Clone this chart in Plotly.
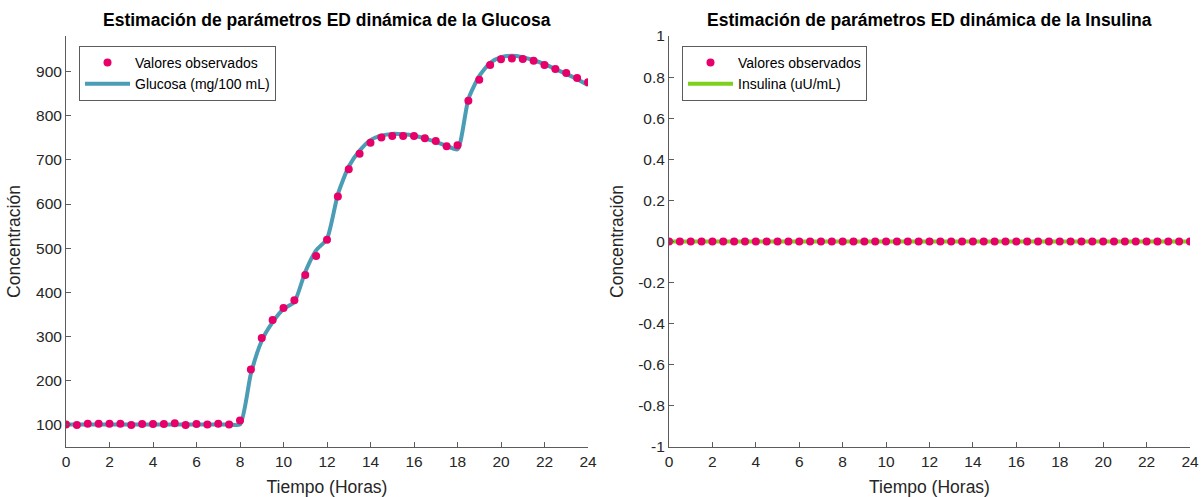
import numpy as np
import plotly.graph_objects as go

# Sampling times (hours)
tiempo = np.arange(0, 24.5, 0.5)

# Observed glucose values (mg/100 mL)
glucosa_obs = [100, 99, 102, 102, 102, 102, 99, 101, 101, 101, 103, 99, 101, 100, 102, 100,
               109, 225, 296, 337, 364, 382, 439, 482, 519,
               617, 679, 714, 739, 751, 754, 754, 754, 749, 743, 731, 733,
               834, 882, 915, 928, 930, 929, 925, 915, 906, 897, 886, 876]

# Fitted glucose model (mg/100 mL)
glucosa_mod = [100, 100, 100, 100, 100, 100, 100, 100, 100, 100, 100, 100, 100, 100, 100, 100,
               100, 215, 290, 332, 362, 378, 446, 495, 521,
               622, 685, 721, 745, 755, 759, 758, 755, 749, 741, 732, 724,
               838, 890, 920, 933, 936, 933, 926, 917, 906, 895, 883, 870]

# Observed and fitted insulin (uU/mL)
insulina_obs = [0] * 49
insulina_mod = [0] * 49

x_ticks = list(range(0, 25, 2))
y1_ticks = [100, 200, 300, 400, 500, 600, 700, 800, 900]
y2_ticks = [-1, -0.8, -0.6, -0.4, -0.2, 0, 0.2, 0.4, 0.6, 0.8, 1]
y2_labels = ["-1", "-0.8", "-0.6", "-0.4", "-0.2", "0", "0.2", "0.4", "0.6", "0.8", "1"]

FONT = "Liberation Sans, Arial, Helvetica, sans-serif"
PINK = "#E8006A"
BLUE = "#4B9DB6"
GREEN = "#7DD01B"
AXC = "#5c5c5c"
TXT = "#262626"

W, H = 1201, 497
T, B = 36, 50
ph = H - T - B

fig = go.Figure()

fig.add_trace(go.Scatter(x=tiempo, y=glucosa_mod, mode="lines", name="Glucosa (mg/100 mL)",
                         line=dict(color=BLUE, width=4, shape="spline", smoothing=0.6),
                         xaxis="x", yaxis="y", legend="legend", legendrank=2))
fig.add_trace(go.Scatter(x=tiempo, y=glucosa_obs, mode="markers", name="Valores observados",
                         marker=dict(color=PINK, size=8),
                         xaxis="x", yaxis="y", legend="legend", legendrank=1))

fig.add_trace(go.Scatter(x=tiempo, y=insulina_mod, mode="lines", name="Insulina (uU/mL)",
                         line=dict(color=GREEN, width=4),
                         xaxis="x2", yaxis="y2", legend="legend2", legendrank=2))
fig.add_trace(go.Scatter(x=tiempo, y=insulina_obs, mode="markers", name="Valores observados",
                         marker=dict(color=PINK, size=8),
                         xaxis="x2", yaxis="y2", legend="legend2", legendrank=1))

dom1 = [66 / W, 588 / W]
dom2 = [669 / W, 1190 / W]

axis_common = dict(showline=True, linecolor=AXC, linewidth=1, ticks="inside", ticklen=5,
                   tickcolor=AXC, showgrid=False, zeroline=False, automargin=False,
                   tickfont=dict(family=FONT, size=15.5, color=TXT))

xt = dict(text="Tiempo (Horas)", font=dict(size=17.5, color=TXT), standoff=14)
yt = dict(text="Concentración", font=dict(size=17.5, color=TXT), standoff=10)

legend_common = dict(xanchor="left", yanchor="top", bgcolor="white",
                     bordercolor="#5c5c5c", borderwidth=1,
                     font=dict(family=FONT, size=14, color="black"),
                     itemwidth=45, tracegroupgap=0)

fig.update_layout(
    width=W, height=H,
    margin=dict(l=0, r=0, t=T, b=B),
    paper_bgcolor="white", plot_bgcolor="white",
    font=dict(family=FONT, color=TXT),
    xaxis=dict(domain=dom1, range=[0, 24], tickvals=x_ticks, anchor="y", title=xt, **axis_common),
    yaxis=dict(domain=[0, 1], range=[49, 981], tickvals=y1_ticks, anchor="x", title=yt, **axis_common),
    xaxis2=dict(domain=dom2, range=[0, 24], tickvals=x_ticks, anchor="y2", title=xt, **axis_common),
    yaxis2=dict(domain=[0, 1], range=[-1, 1], tickvals=y2_ticks, ticktext=y2_labels, anchor="x2",
                title=yt, **axis_common),
    legend=dict(x=79 / W, y=(H - B - 46) / ph, **legend_common),
    legend2=dict(x=682 / W, y=(H - B - 46) / ph, **legend_common),
    showlegend=True,
)

title_y = 1 + (T - 20) / ph
for txt, dom in [("Estimación de parámetros ED dinámica de la Glucosa", dom1),
                 ("Estimación de parámetros ED dinámica de la Insulina", dom2)]:
    fig.add_annotation(text=f"<b>{txt}</b>", x=(dom[0] + dom[1]) / 2, y=title_y,
                       xref="paper", yref="paper", xanchor="center", yanchor="middle",
                       showarrow=False, font=dict(family=FONT, size=17.5, color="black"))

fig.write_html("out.html")
